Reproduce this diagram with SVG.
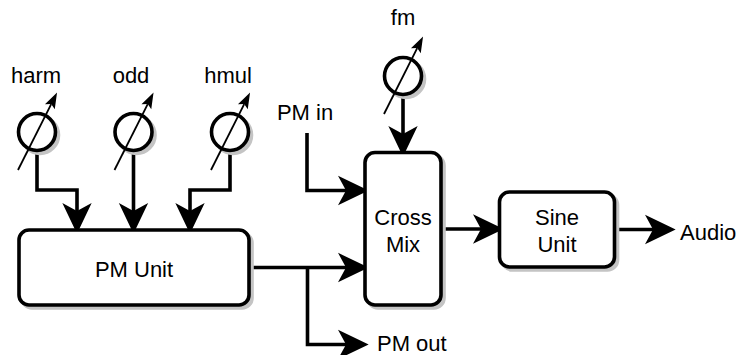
<svg xmlns="http://www.w3.org/2000/svg" width="738" height="355" viewBox="0 0 738 355">
<style>
text{font-family:"Liberation Sans",Arial,Helvetica,sans-serif;font-size:22px;fill:#000}
.box{fill:#fff;stroke:#000;stroke-width:3.6}
.shadow{fill:#c4c4c4;stroke:#c4c4c4;stroke-width:3.6}
.conn{fill:none;stroke:#000;stroke-width:3.6;marker-end:url(#arr)}
.dial{fill:none;stroke:#000;stroke-width:1.8;marker-end:url(#sarr)}
</style>
<defs>
<marker id="arr" markerUnits="userSpaceOnUse" markerWidth="40" markerHeight="40" viewBox="-10 -15 30 30" refX="0" refY="0" orient="auto">
<path d="M0 0 L-6 -11 L17 0 L-6 11 Z" fill="#000"/>
</marker>
<marker id="sarr" markerUnits="userSpaceOnUse" markerWidth="20" markerHeight="20" viewBox="-5 -8 20 16" refX="0" refY="0" orient="auto">
<path d="M0 0 L-3 -5.5 L13 0 L-3 5.5 Z" fill="#000"/>
</marker>
<g id="knobShape">
<circle cx="3" cy="3" r="18.5" class="shadow"/>
<circle cx="0" cy="0" r="18.5" class="box"/>
<line x1="-19" y1="38" x2="14.2" y2="-27.9" class="dial"/>
</g>
</defs>

<g id="connectors">
<path class="conn" d="M37 150 V190 H77 V211"/>
<path class="conn" d="M133.5 150 V211"/>
<path class="conn" d="M230 150 V190 H190 V211"/>
<path class="conn" d="M403 94 V134"/>
<path class="conn" d="M307 133 V190.5 H346"/>
<path class="conn" d="M251 267.5 H346"/>
<path class="conn" d="M307.5 267.5 V344.5 H346"/>
<path class="conn" d="M443 229 H481"/>
<path class="conn" d="M616 229.5 H653"/>
</g>

<g id="harm">
<use href="#knobShape" transform="translate(37,132)"/>
<text x="36" y="83" text-anchor="middle">harm</text>
</g>
<g id="odd">
<use href="#knobShape" transform="translate(133.5,132)"/>
<text x="131" y="83" text-anchor="middle">odd</text>
</g>
<g id="hmul">
<use href="#knobShape" transform="translate(230,132)"/>
<text x="228" y="83" text-anchor="middle">hmul</text>
</g>
<g id="fm">
<use href="#knobShape" transform="translate(403,76)"/>
<text x="403" y="25" text-anchor="middle">fm</text>
</g>

<g id="pm-unit">
<rect x="22" y="233" width="230" height="75" rx="10" class="shadow"/>
<rect x="19" y="230" width="230" height="75" rx="10" class="box"/>
<text x="134" y="277" text-anchor="middle">PM Unit</text>
</g>
<g id="cross-mix">
<rect x="368" y="155.5" width="76" height="152.5" rx="10" class="shadow"/>
<rect x="365" y="152.5" width="76" height="152.5" rx="10" class="box"/>
<text x="403" y="225" text-anchor="middle">Cross</text>
<text x="403" y="252" text-anchor="middle">Mix</text>
</g>
<g id="sine-unit">
<rect x="502.5" y="195" width="115" height="75" rx="10" class="shadow"/>
<rect x="499.5" y="192" width="115" height="75" rx="10" class="box"/>
<text x="557" y="225" text-anchor="middle">Sine</text>
<text x="557" y="252" text-anchor="middle">Unit</text>
</g>
<g id="pm-in">
<text x="305" y="120" text-anchor="middle">PM in</text>
</g>
<g id="pm-out">
<text x="377" y="351">PM out</text>
</g>
<g id="audio">
<text x="680" y="240">Audio</text>
</g>
</svg>
